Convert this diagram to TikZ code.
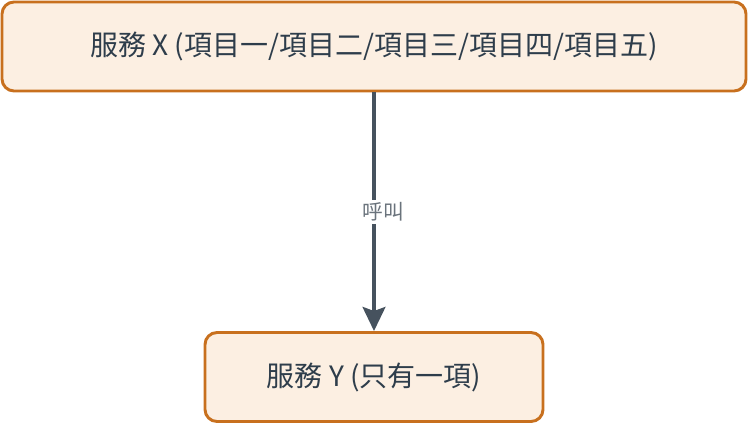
\documentclass[tikz,border=0pt]{standalone}
\usepackage{fontspec}
\newfontfamily\cjk{Noto Sans CJK TC}
\usetikzlibrary{arrows.meta}
\definecolor{boxline}{HTML}{C8701E}
\definecolor{boxfill}{HTML}{FCEFE2}
\definecolor{txt}{HTML}{2E3D4B}
\definecolor{arrowc}{HTML}{46525E}
\definecolor{lbl}{HTML}{6A737C}
\tikzset{
  svcbox/.style={draw=boxline, fill=boxfill, line width=2.2pt, rounded corners=9pt,
    text=txt, font=\cjk\fontsize{21}{25}\selectfont, inner sep=0pt},
  callarrow/.style={draw=arrowc, line width=3pt, -{Stealth[length=18pt,width=17pt,inset=3pt]}},
  calllabel/.style={fill=white, text=lbl, font=\cjk\fontsize{15.5}{18}\selectfont, inner sep=2pt}
}
\begin{document}
\begin{tikzpicture}[x=0.75pt,y=-0.75pt]
\useasboundingbox (0,0) rectangle (748,424);
\node[svcbox, minimum width=744*0.75pt, minimum height=89*0.75pt] (x) at (374,46.5) {服務 X (項目一/項目二/項目三/項目四/項目五)};
\node[svcbox, minimum width=338*0.75pt, minimum height=89*0.75pt] (y) at (374,377) {服務 Y (只有一項)};
\draw[callarrow] (x) -- (y) node[calllabel, pos=0.5, xshift=7pt] {呼叫};
\end{tikzpicture}
\end{document}
